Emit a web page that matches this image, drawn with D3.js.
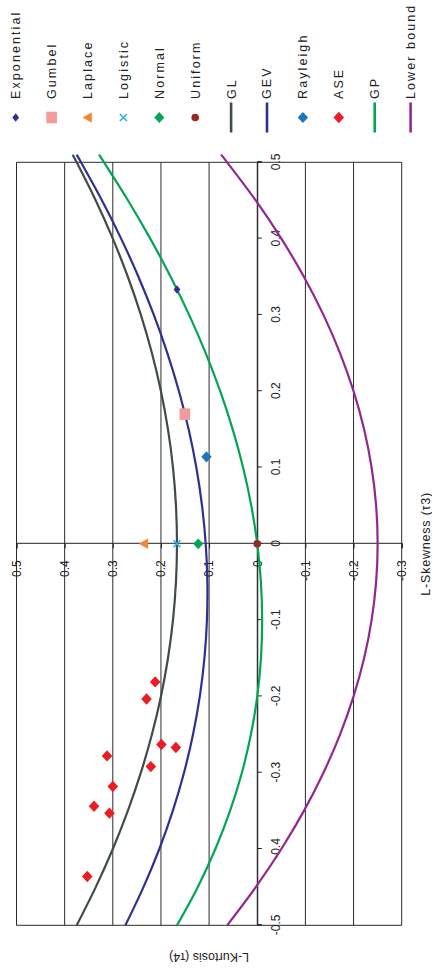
<!DOCTYPE html>
<html>
<head>
<meta charset="utf-8">
<script src="https://cdn.jsdelivr.net/npm/d3@7"></script>
<style>
  html, body { margin: 0; padding: 0; background: #fff; }
  svg { display: block; font-family: "Liberation Sans", Arial, sans-serif; }
</style>
</head>
<body>
<svg id="chart" width="432" height="970"></svg>
<script>
// L-moment ratio diagram: L-skewness (tau3) vs L-kurtosis (tau4)

// Tick values for both axes
const tau3Ticks = [-0.5, -0.4, -0.3, -0.2, -0.1, 0, 0.1, 0.2, 0.3, 0.4, 0.5];
const tau4Ticks = [-0.3, -0.2, -0.1, 0, 0.1, 0.2, 0.3, 0.4, 0.5];

// Theoretical curves sampled along L-skewness
const tau3Grid = [-0.5, -0.45, -0.4, -0.35, -0.3, -0.25, -0.2, -0.15, -0.1, -0.05, 0,
                  0.05, 0.1, 0.15, 0.2, 0.25, 0.3, 0.35, 0.4, 0.45, 0.5, 0.51];
const glCurve = [0.375, 0.3354, 0.3, 0.2688, 0.2417, 0.2188, 0.2, 0.1854, 0.175, 0.1688, 0.1667,
                 0.1688, 0.175, 0.1854, 0.2, 0.2188, 0.2417, 0.2688, 0.3, 0.3354, 0.375, 0.3834];
const gevCurve = [0.2739, 0.2363, 0.2034, 0.1754, 0.1521, 0.1334, 0.1193, 0.1097, 0.1045, 0.1036, 0.107,
                  0.1147, 0.1265, 0.1425, 0.1626, 0.1867, 0.2148, 0.2468, 0.2827, 0.3224, 0.366, 0.375];
const gpCurve = [0.1667, 0.1236, 0.087, 0.0565, 0.0319, 0.0132, 0, -0.0077, -0.0102, -0.0076, 0,
                 0.0124, 0.0294, 0.051, 0.0769, 0.1071, 0.1415, 0.1799, 0.2222, 0.2683, 0.3182, 0.3286];
const lowerBoundCurve = [0.0625, 0.0031, -0.05, -0.0969, -0.1375, -0.1719, -0.2, -0.2219, -0.2375, -0.2469, -0.25,
                         -0.2469, -0.2375, -0.2219, -0.2, -0.1719, -0.1375, -0.0969, -0.05, 0.0031, 0.0625, 0.0751];

// Single-point distributions: [tau3, tau4]
const exponentialPoint = [0.3333, 0.1667];
const gumbelPoint = [0.1699, 0.1504];
const laplacePoint = [0, 0.2357];
const logisticPoint = [0, 0.1667];
const normalPoint = [0, 0.1226];
const uniformPoint = [0, 0];
const rayleighPoint = [0.114, 0.1054];

// Sample L-moment ratios (ASE)
const aseTau3 = [-0.181, -0.2035, -0.263, -0.267, -0.278, -0.292, -0.318, -0.344, -0.353, -0.436];
const aseTau4 = [0.212, 0.230, 0.199, 0.169, 0.312, 0.221, 0.300, 0.339, 0.307, 0.353];

// Legend order
const legendNames = ["Exponential", "Gumbel", "Laplace", "Logistic", "Normal", "Uniform",
                     "GL", "GEV", "Rayleigh", "ASE", "GP", "Lower bound"];

// ---------------------------------------------------------------------------
const W = 970, H = 432;              // chart drawn landscape, then turned on its side
const svg = d3.select("#chart");
const g = svg.append("g").attr("transform", `translate(0,${W}) rotate(-90)`);

const x = d3.scaleLinear().domain([-0.5, 0.5]).range([44.7, 807.7]);
const y = d3.scaleLinear().domain([-0.3, 0.5]).range([401.7, 16.5]);

const fmt = d => String(Math.round(d * 10) / 10);
const gridColor = "#2b2b2b";

// Horizontal gridlines
g.append("g").selectAll("line").data(tau4Ticks).join("line")
  .attr("x1", x(-0.5)).attr("x2", x(0.5))
  .attr("y1", d => y(d)).attr("y2", d => y(d))
  .attr("stroke", gridColor).attr("stroke-width", 1);

// Left / right frame
g.append("g").selectAll("line").data([-0.5, 0.5]).join("line")
  .attr("x1", d => x(d)).attr("x2", d => x(d))
  .attr("y1", y(0.5)).attr("y2", y(-0.3))
  .attr("stroke", gridColor).attr("stroke-width", 1);

// Axes crossing at the origin
const xAxisG = g.append("g").attr("transform", `translate(0,${y(0)})`)
  .call(d3.axisBottom(x).tickValues(tau3Ticks).tickSize(4.5).tickPadding(10).tickFormat(fmt));
const yAxisG = g.append("g").attr("transform", `translate(${x(0)},0)`)
  .call(d3.axisLeft(y).tickValues(tau4Ticks).tickSize(4.5).tickPadding(12).tickFormat(fmt));
[xAxisG, yAxisG].forEach(a => {
  a.attr("font-family", null).attr("font-size", null);
  a.selectAll("path, line").attr("stroke", "#222");
  a.selectAll("text").attr("fill", "#222").style("font-size", "12px");
});

// Theoretical curves
const curveColors = { GL: "#404b4b", GEV: "#2e3192", GP: "#00a651", "Lower bound": "#92278f" };
const lineGen = d3.line()
  .x((d, i) => x(tau3Grid[i]))
  .y(d => y(d))
  .curve(d3.curveCatmullRom.alpha(0.5));
const curves = [["GL", glCurve], ["GEV", gevCurve], ["GP", gpCurve], ["Lower bound", lowerBoundCurve]];
g.append("g").selectAll("path").data(curves).join("path")
  .attr("d", d => lineGen(d[1]))
  .attr("fill", "none")
  .attr("stroke", d => curveColors[d[0]])
  .attr("stroke-width", 2.2);

// Marker shapes
const diamond = (hu, hv) => `M${-hu},0L0,${-hv}L${hu},0L0,${hv}Z`;
const markers = {
  Exponential: sel => sel.append("path").attr("d", diamond(4.3, 3.4)).attr("fill", "#2e3192"),
  Gumbel: sel => sel.append("rect").attr("x", -5.8).attr("y", -5.3).attr("width", 11.6).attr("height", 10.6).attr("fill", "#f39a9b"),
  Laplace: sel => sel.append("path").attr("d", "M-5.3,4.3L0,-5L5.3,4.3Z").attr("fill", "#f58634"),
  Logistic: sel => sel.append("path").attr("d", "M-3.5,-3.5L3.5,3.5M-3.5,3.5L3.5,-3.5").attr("stroke", "#27b2ea").attr("stroke-width", 1.6).attr("fill", "none"),
  Normal: sel => sel.append("path").attr("d", diamond(5.4, 5)).attr("fill", "#00a651"),
  Uniform: sel => sel.append("circle").attr("r", 3.8).attr("fill", "#952a23"),
  Rayleigh: sel => sel.append("path").attr("d", diamond(5.6, 5.2)).attr("fill", "#1f75bc"),
  ASE: sel => sel.append("path").attr("d", diamond(5.7, 5.3)).attr("fill", "#ec1c24")
};

// Distribution points
const points = [["Exponential", exponentialPoint], ["Gumbel", gumbelPoint], ["Laplace", laplacePoint],
                ["Logistic", logisticPoint], ["Normal", normalPoint], ["Uniform", uniformPoint],
                ["Rayleigh", rayleighPoint]];
const ptLayer = g.append("g");
ptLayer.selectAll("g.ase").data(aseTau3.map((t, i) => [t, aseTau4[i]])).join("g")
  .attr("class", "ase")
  .attr("transform", d => `translate(${x(d[0])},${y(d[1])})`)
  .each(function () { markers.ASE(d3.select(this)); });
ptLayer.selectAll("g.dist").data(points).join("g")
  .attr("class", "dist")
  .attr("transform", d => `translate(${x(d[1][0])},${y(d[1][1])})`)
  .each(function (d) { markers[d[0]](d3.select(this)); });

// Axis titles
g.append("text")
  .attr("x", x(0)).attr("y", 429.5)
  .attr("text-anchor", "middle").attr("fill", "#222")
  .style("font-size", "12.5px").style("letter-spacing", "0.8px")
  .text("L-Skewness (τ3)");
g.append("text")
  .attr("transform", `translate(17.5,${(y(0.5) + y(-0.3)) / 2}) rotate(-90)`)
  .attr("text-anchor", "middle").attr("fill", "#222")
  .style("font-size", "12.5px")
  .text("L-Kurtosis (τ4)");

// Legend
const legendScale = d3.scalePoint().domain(legendNames).range([15.7, 410.6]);
const legend = g.append("g").attr("transform", "translate(852.5,0)");
const entries = legend.selectAll("g").data(legendNames).join("g")
  .attr("transform", d => `translate(0,${legendScale(d)})`);
entries.each(function (d) {
  const s = d3.select(this);
  if (curveColors[d]) {
    s.append("line").attr("x1", -15).attr("x2", 15)
      .attr("stroke", curveColors[d]).attr("stroke-width", 2.6);
  } else {
    markers[d](s);
  }
});
entries.append("text")
  .attr("x", 18.5).attr("y", 4.4)
  .attr("fill", "#222")
  .style("font-size", "12.5px").style("letter-spacing", "2.1px")
  .text(d => d);
</script>
</body>
</html>
